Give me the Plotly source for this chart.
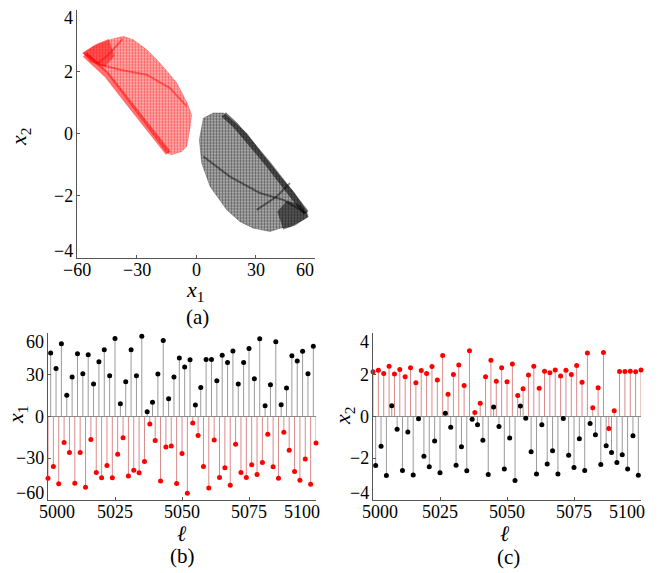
import plotly.graph_objects as go

# ---------------- data ----------------
# (a) outlines of the two attractor lobes in the (x1, x2) plane
red_outline_x1 = [-57.1, -51.8, -43.4, -36.7, -31.6, -24.9, -18.2, -9.7, -4.5, -2.2, -3.0, -3.9,
                  -4.7, -7.2, -12.3, -14.8, -19.8, -28.2, -36.7, -45.0, -53.5, -57.1]
red_outline_x2 = [2.60, 2.82, 3.03, 3.14, 3.03, 2.71, 2.28, 1.64, 1.00, 0.61, 0.18, -0.19,
                  -0.41, -0.57, -0.68, -0.62, -0.19, 0.56, 1.26, 1.96, 2.39, 2.60]
black_outline_x1 = [3.7, 8.7, 13.8, 18.8, 25.6, 33.0, 42.4, 49.1, 55.8, 56.6, 54.1, 47.4, 42.4,
                    37.3, 28.9, 22.2, 15.5, 7.1, 2.9, 2.0, 1.7, 3.7]
black_outline_x2 = [0.50, 0.67, 0.67, 0.40, 0.02, -0.62, -1.38, -1.86, -2.50, -2.67, -2.77, -2.99,
                    -3.04, -3.15, -3.04, -2.83, -2.45, -1.70, -0.95, -0.41, -0.19, 0.50]

# denser folds inside each lobe
red_tip_x1 = [-57.1, -50.0, -44.0, -41.0, -46.0, -53.0, -57.1]
red_tip_x2 = [2.60, 2.90, 3.05, 2.50, 2.15, 2.30, 2.60]
red_edge_x1 = [-56.0, -45.0, -36.7, -28.2, -19.8, -14.0]
red_edge_x2 = [2.55, 1.90, 1.22, 0.52, -0.22, -0.62]
red_fold_x1 = [-55.1, -48.4, -38.3, -24.9, -13.1, -4.7]
red_fold_x2 = [2.55, 2.23, 2.06, 1.90, 1.47, 0.88]
red_fold2_x1 = [-37.0, -44.0, -50.0]
red_fold2_x2 = [3.05, 2.55, 2.25]

black_tip_x1 = [56.6, 50.0, 44.0, 41.0, 46.0, 53.0, 56.6]
black_tip_x2 = [-2.67, -2.95, -3.08, -2.50, -2.15, -2.30, -2.67]
black_edge_x1 = [55.5, 45.0, 36.7, 28.2, 19.8, 14.0]
black_edge_x2 = [-2.55, -1.65, -1.00, -0.35, 0.28, 0.62]
black_fold_x1 = [3.7, 17.1, 32.3, 44.0, 55.8]
black_fold_x2 = [-0.73, -1.38, -1.91, -2.13, -2.56]
black_fold2_x1 = [30.6, 40.7, 47.4]
black_fold2_x2 = [-2.45, -2.02, -1.59]

# (b), (c) iterates: even steps fall on the red lobe, odd steps on the black lobe
ell_start = 5000
x1_red = [-44.3, -35.9, -48.4, -18.6, -25.8, -48.0, -25.8, -50.8, -16.6, -40.2, -44.1, -35.2,
          -44.1, -27.2, -15.2, -42.7, -38.6, -40.5, -32.3, -5.3, -17.3, -46.3, -21.9, -21.2,
          -48.2, -26.5, -55.2, -4.6, -13.7, -35.9, -51.3, -16.9, -43.9, -36.9, -49.4, -20.0,
          -40.2, -43.9, -34.7, -41.7, -33.0, -12.8, -36.1, -44.3, -11.3, -24.3, -39.5, -45.8,
          -30.6, -48.7, -19.0]
x1_black = [45.6, 34.5, 52.3, 15.3, 28.3, 45.1, 30.7, 44.4, 23.3, 39.3, 48.0, 29.3, 56.1, 9.1,
            24.9, 48.0, 29.3, 57.6, 3.4, 10.3, 30.5, 54.7, 12.7, 28.3, 42.0, 35.5, 40.8, 8.2,
            20.9, 41.0, 41.0, 25.7, 44.1, 38.8, 47.0, 23.3, 38.8, 48.9, 27.1, 55.9, 7.7, 22.8,
            53.7, 8.4, 20.4, 43.6, 39.8, 46.8, 30.7, 50.4]
x2_red = [2.14, 2.22, 2.06, 2.41, 2.04, 2.25, 1.91, 2.33, 1.62, 2.20, 2.06, 2.39, 1.75, 2.92,
          1.06, 2.01, 2.47, 1.49, 3.15, 0.19, 0.64, 1.90, 2.70, 1.69, 2.33, 1.67, 2.51, 1.01,
          1.33, 1.99, 2.41, 1.35, 2.17, 2.10, 2.23, 1.94, 2.22, 2.01, 2.44, 1.64, 3.04, 0.42,
          1.38, 3.07, -0.58, 0.27, 2.15, 2.15, 2.17, 2.14, 2.23]
x2_black = [-2.35, -1.43, -2.83, 0.51, -0.61, -2.59, -0.74, -2.80, -0.11, -1.90, -2.41, -1.17,
            -2.70, 0.16, -0.51, -2.33, -1.45, -2.60, -0.13, -0.39, -1.14, -2.78, 0.45, -0.48,
            -2.52, -1.03, -3.07, 0.50, -0.08, -1.69, -2.76, -0.40, -2.28, -1.64, -2.75, -0.10,
            -1.86, -2.44, -1.06, -2.59, -0.34, -0.88, -2.30, -1.40, -1.73, -2.20, -1.83, -2.51,
            -0.92, -2.81]

ell_red = [ell_start + 2 * i for i in range(len(x1_red))]
ell_black = [ell_start + 2 * i + 1 for i in range(len(x1_black))]

ticks_x1 = [-60, -30, 0, 30, 60]
ticks_x2 = [-4, -2, 0, 2, 4]
ticks_ell = [5000, 5025, 5050, 5075, 5100]

# ---------------- styling ----------------
RED = "#ff0000"
BLACK = "#000000"
RED_STEM = "#d98a8a"
BLACK_STEM = "#9a9a9a"
AXIS = "#555555"
FONT = "Liberation Serif"
TICK_SIZE = 18
W, H = 662, 573


def px_dom(a, b):
    return [a / W, b / W]


def py_dom(top, bottom):
    return [1 - bottom / H, 1 - top / H]


fig = go.Figure()


# ---------- panel (a): attractor lobes ----------
def lobe(xs, ys, color, fill):
    fig.add_trace(go.Scatter(
        x=xs, y=ys, mode="lines", fill="toself", line=dict(width=1, color=fill),
        fillcolor=fill,
        fillpattern=dict(shape=".", fgcolor=color, size=3, solidity=0.5),
        xaxis="x", yaxis="y", hoverinfo="skip", showlegend=False))


def dense(xs, ys, color, width, opacity, closed=False):
    fig.add_trace(go.Scatter(
        x=xs, y=ys, mode="lines", fill="toself" if closed else None,
        fillcolor=color, line=dict(width=width, color=color),
        opacity=opacity, xaxis="x", yaxis="y", hoverinfo="skip", showlegend=False))


lobe(red_outline_x1, red_outline_x2, RED, "rgba(255,0,0,0.25)")
lobe(black_outline_x1, black_outline_x2, BLACK, "rgba(0,0,0,0.25)")
dense(red_tip_x1, red_tip_x2, RED, 0, 0.5, closed=True)
dense(red_edge_x1, red_edge_x2, RED, 6, 0.55)
dense(red_fold_x1, red_fold_x2, RED, 2, 0.45)
dense(red_fold2_x1, red_fold2_x2, RED, 2, 0.45)
dense(black_tip_x1, black_tip_x2, BLACK, 0, 0.5, closed=True)
dense(black_edge_x1, black_edge_x2, BLACK, 6, 0.55)
dense(black_fold_x1, black_fold_x2, BLACK, 2, 0.45)
dense(black_fold2_x1, black_fold2_x2, BLACK, 2, 0.45)


# ---------- panels (b), (c): stem plots ----------
def stems(xs, ys, color, xa, ya):
    sx, sy = [], []
    for x, y in zip(xs, ys):
        sx += [x, x, None]
        sy += [0, y, None]
    fig.add_trace(go.Scatter(x=sx, y=sy, mode="lines", line=dict(color=color, width=1),
                             xaxis=xa, yaxis=ya, hoverinfo="skip", showlegend=False))


def dots(xs, ys, color, xa, ya):
    fig.add_trace(go.Scatter(x=xs, y=ys, mode="markers", marker=dict(color=color, size=5),
                             cliponaxis=False, xaxis=xa, yaxis=ya, showlegend=False))


for xa, ya, red_vals, black_vals in [("x2", "y2", x1_red, x1_black),
                                     ("x3", "y3", x2_red, x2_black)]:
    stems(ell_black, black_vals, BLACK_STEM, xa, ya)
    stems(ell_red, red_vals, RED_STEM, xa, ya)
    fig.add_trace(go.Scatter(x=[ell_start, ell_start + 100], y=[0, 0], mode="lines",
                             line=dict(color="#8a8a8a", width=1), xaxis=xa, yaxis=ya,
                             hoverinfo="skip", showlegend=False))
    dots(ell_black, black_vals, BLACK, xa, ya)
    dots(ell_red, red_vals, RED, xa, ya)

axis_common = dict(showline=True, linecolor=AXIS, linewidth=1, mirror=False, ticks="inside",
                   ticklen=3, tickcolor=AXIS, showgrid=False, zeroline=False,
                   showticklabels=False, fixedrange=True)

fig.update_layout(
    width=W, height=H, margin=dict(l=0, r=0, t=0, b=0),
    paper_bgcolor="white", plot_bgcolor="white", showlegend=False,
    xaxis=dict(domain=px_dom(77, 315), range=[-60, 60], tickvals=ticks_x1,
               anchor="y", **axis_common),
    yaxis=dict(domain=py_dom(9.5, 258), range=[-4, 4], tickvals=ticks_x2,
               anchor="x", **axis_common),
    xaxis2=dict(domain=px_dom(48, 316), range=[5000, 5100], tickvals=ticks_ell,
                anchor="y2", **axis_common),
    yaxis2=dict(domain=py_dom(333, 500), range=[-60, 60], tickvals=ticks_x1,
                anchor="x2", **axis_common),
    xaxis3=dict(domain=px_dom(373, 641), range=[5000, 5100], tickvals=ticks_ell,
                anchor="y3", **axis_common),
    yaxis3=dict(domain=py_dom(333, 500), range=[-4, 4], tickvals=ticks_x2,
                anchor="x3", **axis_common),
)


def fmt(v):
    return str(v).replace("-", "\u2212")


# tick labels: the end labels are pulled inward so they stay within the frame
def x_tick_labels(xa, ya, vals, first_shift, last_shift):
    for i, v in enumerate(vals):
        shift = first_shift if i == 0 else last_shift if i == len(vals) - 1 else 0
        fig.add_annotation(text=fmt(v), x=v, xref=xa, y=0, yref=f"{ya} domain",
                           xanchor="center", yanchor="middle", yshift=-12, xshift=shift,
                           showarrow=False, font=dict(family=FONT, size=TICK_SIZE, color="black"))


def y_tick_labels(xa, ya, vals, bottom_shift, top_shift):
    for i, v in enumerate(vals):
        shift = bottom_shift if i == 0 else top_shift if i == len(vals) - 1 else 0
        fig.add_annotation(text=fmt(v), x=0, xref=f"{xa} domain", y=v, yref=ya,
                           xanchor="right", yanchor="middle", xshift=-2, yshift=shift,
                           showarrow=False, font=dict(family=FONT, size=TICK_SIZE, color="black"))


x_tick_labels("x", "y", ticks_x1, 0, -10)
y_tick_labels("x", "y", ticks_x2, 7, -9)
x_tick_labels("x2", "y2", ticks_ell, 9, -14)
y_tick_labels("x2", "y2", ticks_x1, 7, -9)
x_tick_labels("x3", "y3", ticks_ell, 7, -14)
y_tick_labels("x3", "y3", ticks_x2, 7, -9)


def label(text, x, y, size=22, angle=0):
    fig.add_annotation(text=text, x=x / W, y=1 - y / H, xref="paper", yref="paper",
                       showarrow=False, textangle=angle, xanchor="center", yanchor="middle",
                       font=dict(family=FONT, size=size, color="black"))


label("<i>x</i><sub>1</sub>", 195, 291)
label("<i>x</i><sub>2</sub>", 20, 137, angle=-90)
label("(a)", 197, 317, size=21)
label("<i>x</i><sub>1</sub>", 17, 415, angle=-90)
label("<i>ℓ</i>", 182, 533)
label("(b)", 183, 556, size=21)
label("<i>x</i><sub>2</sub>", 344, 416, angle=-90)
label("<i>ℓ</i>", 505, 533)
label("(c)", 508, 557, size=21)

fig.write_html("out.html")
